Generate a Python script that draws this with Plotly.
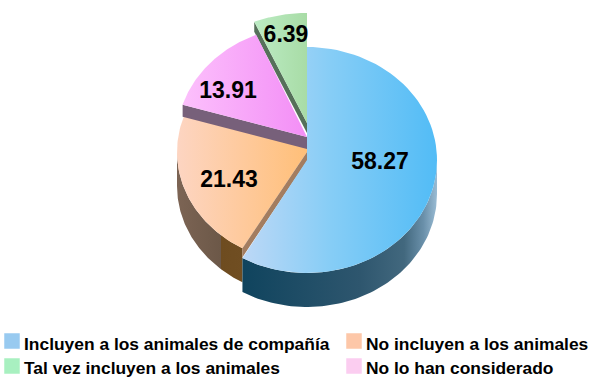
import numpy as np
import plotly.graph_objects as go

categories = ["Incluyen a los animales de compañía", "No incluyen a los animales",
              "No lo han considerado", "Tal vez incluyen a los animales"]
values = [58.27, 21.43, 13.91, 6.39]

W, H = 597, 383
CX = 307
RX = [130, 130, 130, 135]
CY = [160, 152, 137, 123]
RY = [113, 111, 111, 110]
DEPTH = 34
CUT = [0, 9, 12, 10]

top_grad = [
    [[0, "#bcd8f6"], [0.45, "#86cdf6"], [1, "#52bcf6"]],
    [[0, "#fdd5c2"], [1, "#ffbf78"]],
    [[0, "#fcc0fc"], [1, "#f38ef6"]],
    [[0, "#bcecc4"], [1, "#a8dca6"]],
]
top_span = [(244, 437), (177, 307), (183, 307), (254, 307)]
cut_color = ["#000000", "#a37d60", "#77607a", "#56705a"]
label_pos = [(380, 163), (229, 181), (228, 92), (286, 36)]
legend_pos = [(12, 341), (354, 341), (354, 366), (12, 366)]
legend_text_y = [344, 344, 367.5, 367.5]
legend_color = ["#98caf0", "#fdc7a8", "#fbcdf0", "#a8f0c0"]
FONT = "Liberation Sans"

cum = np.concatenate([[0], np.cumsum(values)]) / sum(values) * 2 * np.pi


def arc(i, a, b, dy=0, n=80):
    t = np.linspace(a, b, n)
    return CX + RX[i] * np.sin(t), CY[i] - RY[i] * np.cos(t) + dy


def grad(stops, x0, x1):
    return dict(type="horizontal", colorscale=stops, start=x0, stop=x1)


fig = go.Figure()


def poly(x, y, color=None, gradient=None):
    kw = dict(fillcolor=color) if gradient is None else dict(fillgradient=gradient)
    fig.add_trace(go.Scatter(x=list(x), y=list(y), mode="lines", fill="toself",
                             line=dict(width=0), hoverinfo="skip", showlegend=False, **kw))


def wedge(i, over=0.0, lift=0):
    ax, ay = arc(i, cum[i], cum[i + 1] + over)
    poly(np.r_[CX, ax, CX, CX], np.r_[CY[i], ay, CY[i] - lift, CY[i]],
         gradient=grad(top_grad[i], *top_span[i]))


def cut_face(i, angle):
    ex, ey = arc(i, angle, angle, n=1)
    d = CUT[i]
    poly([CX, ex[0], ex[0], CX, CX],
         [CY[i], ey[0], ey[0] + d, CY[i] + d, CY[i]], color=cut_color[i])


def rim(i, a, b, stops, x0, x1):
    tx, ty = arc(i, a, b)
    bx, by = arc(i, b, a, dy=DEPTH)
    poly(np.r_[tx, bx], np.r_[ty, by], gradient=grad(stops, x0, x1))


# green slice (exploded, furthest back)
cut_face(3, cum[3])
wedge(3)
# orange slice, running on slightly under the pink slice's cut face
rim(1, cum[1], 1.5 * np.pi,
    [[0, "#7c6454"], [0.657, "#6c5848"], [0.66, "#6e4c20"], [1, "#704e22"]], 177, 244)
wedge(1, over=0.08, lift=8)
cut_face(1, cum[1])
# pink slice
cut_face(2, cum[2])
wedge(2)
# blue slice
rim(0, 0.5 * np.pi, cum[1],
    [[0, "#10445e"], [0.6, "#2e566e"], [0.83, "#42687e"], [0.93, "#6a90aa"], [1, "#9abcd4"]], 244, 437)
wedge(0)

# value labels
for v, (x, y) in zip(values, label_pos):
    fig.add_trace(go.Scatter(x=[x], y=[y], mode="text", text=[f"{v:.2f}"],
                             textposition="middle center", hoverinfo="skip", showlegend=False,
                             textfont=dict(family=FONT, size=23, color="#000000", weight=700)))

# legend
for name, c, (x, y), ty in zip(categories, legend_color, legend_pos, legend_text_y):
    fig.add_trace(go.Scatter(x=[x], y=[y], mode="markers", hoverinfo="skip", showlegend=False,
                             marker=dict(symbol="square", size=15.5, color=c, line=dict(width=0))))
    fig.add_annotation(x=x + 12, y=ty, xshift=-2, text=name, showarrow=False, xanchor="left", yanchor="middle",
                       font=dict(family=FONT, size=17.4, color="#000000", weight=700))

fig.update_layout(width=W, height=H, autosize=False, margin=dict(l=0, r=0, t=0, b=0),
                  paper_bgcolor="white", plot_bgcolor="white")
fig.update_xaxes(range=[0, W], visible=False, fixedrange=True)
fig.update_yaxes(range=[H, 0], visible=False, fixedrange=True)
fig.write_html("out.html", post_script="document.body.style.margin='0';document.body.style.overflow='hidden';",
               config=dict(displayModeBar=False))
